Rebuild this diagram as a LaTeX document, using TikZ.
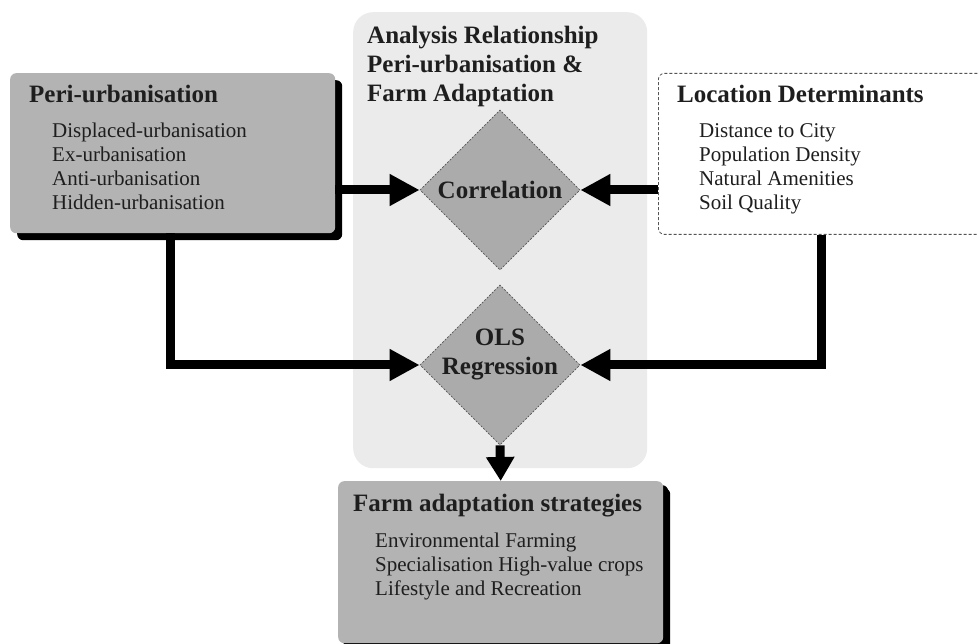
\documentclass[tikz,border=0pt]{standalone}
\usepackage{fontspec}
\setmainfont{Liberation Serif}
\usetikzlibrary{shapes.geometric,arrows.meta,shadows}
\definecolor{panelgray}{HTML}{EBEBEB}
\definecolor{boxgray}{HTML}{B3B3B3}
\definecolor{diagray}{HTML}{ABABAB}
\definecolor{inkgray}{HTML}{1E1E1E}
\definecolor{dashgray}{HTML}{555555}
\begin{document}
\begin{tikzpicture}[x=1pt,y=-1pt,
  titlefont/.style={font=\fontsize{25}{29}\selectfont\bfseries, text=inkgray, inner sep=0pt},
  itemfont/.style={font=\fontsize{21}{24}\selectfont, text=inkgray, inner sep=0pt},
  graybox/.style={fill=boxgray, rounded corners=6pt, inner sep=0pt, anchor=north west,
    general shadow={fill=black, shadow xshift=7pt, shadow yshift=-7pt, rounded corners=6pt}},
  dia/.style={diamond, aspect=1, fill=diagray, draw=dashgray, line width=0.8pt,
    dash pattern=on 2pt off 1.5pt, inner sep=0pt, minimum width=160pt, minimum height=160pt},
  arr/.style={line width=9pt, draw=black, -{Triangle[length=30pt,width=30pt]}},
  arrdown/.style={line width=9pt, draw=black, -{Triangle[length=24pt,width=27pt]}}
]
\useasboundingbox (0,0) rectangle (978,644);
\fill[white] (0,0) rectangle (978,644);

% central panel
\node[fill=panelgray, rounded corners=20pt, minimum width=294pt, minimum height=456pt,
  inner sep=0pt, anchor=north west] (panel) at (353,12) {};
\node[titlefont, anchor=base west, align=left] (ptitle) at (367,102)
  {Analysis Relationship\\Peri-urbanisation \&\\Farm Adaptation};

% peri-urbanisation box
\node[graybox, minimum width=325pt, minimum height=160pt] (peri) at (10,73) {};
\node[titlefont, anchor=base west] (perit) at (29,103) {Peri-urbanisation};
\node[itemfont, anchor=base west, align=left] (perii) at (52,210)
  {Displaced-urbanisation\\Ex-urbanisation\\Anti-urbanisation\\Hidden-urbanisation};

% location determinants box
\node[fill=white, draw=dashgray, line width=0.8pt, dash pattern=on 3pt off 2pt,
  rounded corners=6pt, inner sep=0pt, anchor=north west,
  minimum width=340pt, minimum height=161pt] (loc) at (658,73) {};
\node[titlefont, anchor=base west] (loct) at (677,103) {Location Determinants};
\node[itemfont, anchor=base west, align=left] (loci) at (699,210)
  {Distance to City\\Population Density\\Natural Amenities\\Soil Quality};

% diamonds
\node[dia] (cor) at (500,190) {};
\node[titlefont, anchor=base] (cort) at (500,199) {Correlation};
\node[dia] (ols) at (500,365) {};
\node[titlefont, align=center, anchor=base] (olst) at (500,375) {OLS\\Regression};

% farm adaptation box
\node[graybox, general shadow={fill=black, shadow xshift=5pt, shadow yshift=-4pt, rounded corners=6pt},
  minimum width=325pt, minimum height=162pt] (farm) at (338,481) {};
\node[titlefont, anchor=base west] (farmt) at (353,511) {Farm adaptation strategies};
\node[itemfont, anchor=base west, align=left] (farmi) at (375,595)
  {Environmental Farming\\Specialisation High-value crops\\Lifestyle and Recreation};

% connectors
\coordinate (pcx) at (170,0);
\coordinate (lcx) at (821,0);
\draw[arr] (peri.east |- cor.west) -- (cor.west);
\draw[arr] (loc.west |- cor.east) -- (cor.east);
\draw[arr] (peri.south -| pcx) |- (ols.west);
\draw[arr] (loc.south -| lcx) |- (ols.east);
\draw[arrdown] (ols.south) -- (farm.north);
\end{tikzpicture}
\end{document}
